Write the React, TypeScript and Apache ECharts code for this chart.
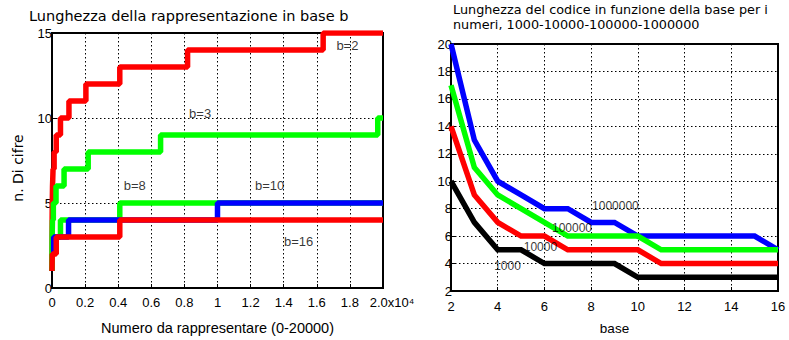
import React, { useEffect, useRef } from "react";
import * as echarts from "echarts";

// ---- Left chart: number of digits vs number (step change points) ----
const b2X = [0, 2, 4, 8, 16, 32, 64, 128, 256, 512, 1024, 2048, 4096, 8192, 16384, 20000];
const b2Y = [1, 2, 3, 4, 5, 6, 7, 8, 9, 10, 11, 12, 13, 14, 15, 15];
const b3X = [0, 3, 9, 27, 81, 243, 729, 2187, 6561, 19683, 20000];
const b3Y = [1, 2, 3, 4, 5, 6, 7, 8, 9, 10, 10];
const b8X = [0, 8, 64, 512, 4096, 20000];
const b8Y = [1, 2, 3, 4, 5, 5];
const b10X = [0, 10, 100, 1000, 10000, 20000];
const b10Y = [2, 2, 3, 4, 5, 5];
const b16X = [0, 16, 256, 4096, 20000];
const b16Y = [1, 2, 3, 4, 4];
const leftXTicks = ["0", "0.2", "0.4", "0.6", "0.8", "1", "1.2", "1.4", "1.6", "1.8", "2.0x10⁴"];

// ---- Right chart: code length vs base ----
const bases = [2, 3, 4, 5, 6, 7, 8, 9, 10, 11, 12, 13, 14, 15, 16];
const len1000 = [10, 7, 5, 5, 4, 4, 4, 4, 3, 3, 3, 3, 3, 3, 3];
const len10000 = [14, 9, 7, 6, 6, 5, 5, 5, 5, 4, 4, 4, 4, 4, 4];
const len100000 = [17, 11, 9, 8, 7, 6, 6, 6, 6, 5, 5, 5, 5, 5, 5];
const len1000000 = [20, 13, 10, 9, 8, 8, 7, 7, 6, 6, 6, 6, 6, 6, 5];

const FONT = "Liberation Sans, Arial, Helvetica, sans-serif";
const WIDE = "DejaVu Sans, Verdana, sans-serif";

function zip(xs: number[], ys: number[]) {
  return xs.map((x, i) => [x, ys[i]]);
}

export default function App() {
  const ref = useRef<HTMLDivElement>(null);
  useEffect(() => {
    document.body.style.margin = "0";
    const chart = echarts.init(ref.current!, null, { renderer: "svg" });
    const gridLine = { show: true, lineStyle: { color: "#000", width: 1, type: [1.5, 2.5] as any } };
    const axisLine = { show: true, lineStyle: { color: "#000", width: 2 } };
    const tick = { show: true, inside: true, length: 4, lineStyle: { color: "#000" } };
    const lbl = { color: "#000", fontFamily: FONT, fontSize: 13 };
    const stepLine = (name: string, xs: number[], ys: number[], color: string) => ({
      type: "line",
      name,
      xAxisIndex: 0,
      yAxisIndex: 0,
      step: "end",
      showSymbol: false,
      symbol: "none",
      data: zip(xs, ys),
      lineStyle: { color, width: 5.5 },
      z: 2,
    });
    const rLine = (name: string, ys: number[], color: string) => ({
      type: "line",
      name,
      xAxisIndex: 1,
      yAxisIndex: 1,
      showSymbol: false,
      symbol: "none",
      data: zip(bases, ys),
      lineStyle: { color, width: 5.5, join: "miter" },
      z: 2,
    });
    const annot = (text: string, x: number, y: number, xi: number, fs: number) => ({
      type: "scatter",
      xAxisIndex: xi,
      yAxisIndex: xi,
      symbolSize: 0,
      data: [[x, y]],
      silent: true,
      z: 5,
      label: {
        show: true,
        position: "inside",
        formatter: text,
        color: "#000",
        fontFamily: FONT,
        fontSize: fs,
      },
    });
    chart.setOption({
      animation: false,
      backgroundColor: "#fff",
      title: [
        {
          text: "Lunghezza della rappresentazione in base b",
          left: 29,
          top: 8,
          padding: 0,
          textStyle: { color: "#000", fontFamily: WIDE, fontSize: 14.5, fontWeight: "normal", lineHeight: 16 },
        },
        {
          text: "Lunghezza del codice in funzione della base per i\nnumeri, 1000-10000-100000-1000000",
          left: 453,
          top: 2,
          padding: 0,
          textStyle: { color: "#000", fontFamily: WIDE, fontSize: 12.8, fontWeight: "normal", lineHeight: 15 },
        },
      ],
      graphic: [
        {
          type: "text",
          x: 18,
          y: 168,
          rotation: Math.PI / 2,
          style: {
            text: "n. Di cifre",
            fill: "#000",
            fontFamily: WIDE,
            fontSize: 14,
            align: "center",
            verticalAlign: "middle",
          },
        },
      ],
      grid: [
        { left: 52, right: 406, top: 33, bottom: 50, show: true, borderColor: "#000", borderWidth: 2 },
        { left: 451, right: 11, top: 44, bottom: 40, show: true, borderColor: "#000", borderWidth: 2 },
      ],
      xAxis: [
        {
          type: "value",
          gridIndex: 0,
          min: 0,
          max: 20000,
          interval: 2000,
          axisLine,
          axisTick: tick,
          splitLine: gridLine,
          axisLabel: {
            ...lbl,
            margin: 8,
            formatter: (v: number) => {
              const i = Math.round(v / 2000);
              return i === 10 ? "{s|" + leftXTicks[i] + "}" : leftXTicks[i];
            },
            rich: { s: { ...lbl, padding: [0, 0, 0, 18] } },
          },
          name: "Numero da rappresentare (0-20000)",
          nameLocation: "middle",
          nameGap: 32,
          nameTextStyle: { color: "#000", fontFamily: FONT, fontSize: 14.5 },
        },
        {
          type: "value",
          gridIndex: 1,
          min: 2,
          max: 16,
          interval: 2,
          axisLine,
          axisTick: tick,
          splitLine: gridLine,
          axisLabel: { ...lbl, margin: 9 },
          name: "base",
          nameLocation: "middle",
          nameGap: 30,
          nameTextStyle: { color: "#000", fontFamily: FONT, fontSize: 13.5 },
        },
      ],
      yAxis: [
        {
          type: "value",
          gridIndex: 0,
          min: 0,
          max: 15,
          interval: 5,
          axisLine,
          axisTick: tick,
          splitLine: gridLine,
          axisLabel: { ...lbl, margin: 0 },
        },
        {
          type: "value",
          gridIndex: 1,
          min: 2,
          max: 20,
          interval: 2,
          axisLine,
          axisTick: tick,
          splitLine: gridLine,
          axisLabel: { ...lbl, margin: -1 },
        },
      ],
      series: [
        stepLine("b=2", b2X, b2Y, "#ff0000"),
        stepLine("b=3", b3X, b3Y, "#00ff00"),
        stepLine("b=8", b8X, b8Y, "#00ff00"),
        stepLine("b=10", b10X, b10Y, "#0000ff"),
        stepLine("b=16", b16X, b16Y, "#ff0000"),
        rLine("1000000", len1000000, "#0000ff"),
        rLine("100000", len100000, "#00ff00"),
        rLine("10000", len10000, "#ff0000"),
        rLine("1000", len1000, "#000000"),
        annot("b=2", 17850, 14.25, 0, 13),
        annot("b=3", 8950, 10.25, 0, 13),
        annot("b=8", 5000, 6.03, 0, 13),
        annot("b=10", 13150, 6.03, 0, 13),
        annot("b=16", 14900, 2.76, 0, 13),
        annot("1000000", 9.04, 8.21, 1, 12),
        annot("100000", 7.18, 6.57, 1, 12),
        annot("10000", 5.83, 5.21, 1, 12),
        annot("1000", 4.42, 3.81, 1, 12),
      ],
    });
    return () => chart.dispose();
  }, []);
  return <div ref={ref} style={{ width: 789, height: 340 }} />;
}
